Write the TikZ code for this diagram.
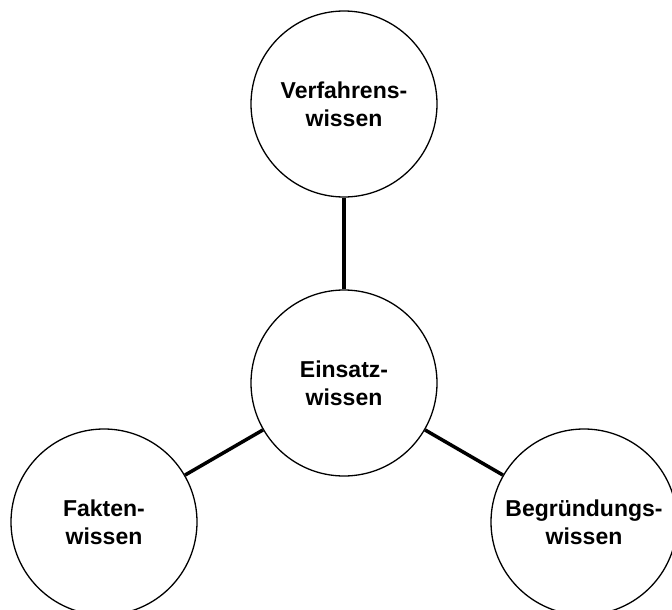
\documentclass[tikz,border=0pt]{standalone}
\usepackage{fontspec}
\setmainfont{Liberation Sans}
\begin{document}
\begin{tikzpicture}[x=1pt,y=-1pt,
  wissen/.style={circle,draw=black,line width=1.3pt,minimum size=186pt,inner sep=0pt,align=center,
    font=\fontsize{23}{28}\selectfont\bfseries},
  link/.style={draw=black,line width=3.5pt}]
\useasboundingbox (0,0) rectangle (672,610);
\node[wissen] (v) at (344,104) {Verfahrens-\\wissen};
\node[wissen] (e) at (344,383) {Einsatz-\\wissen};
\node[wissen] (f) at (104,522) {Fakten-\\wissen};
\node[wissen] (b) at (584,522) {Begründungs-\\wissen};
\draw[link] (e) -- (v);
\draw[link] (e) -- (f);
\draw[link] (e) -- (b);
\end{tikzpicture}
\end{document}
